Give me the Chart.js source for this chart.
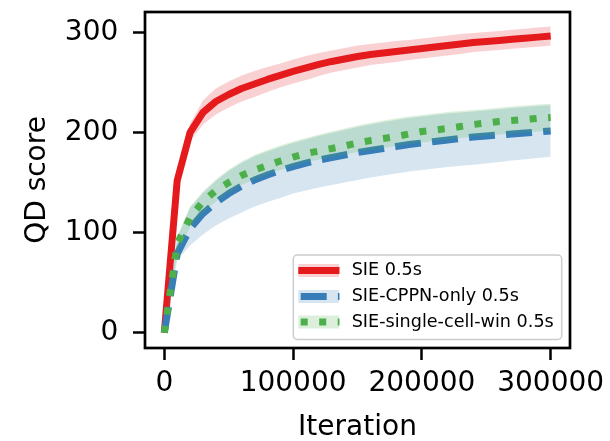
<!DOCTYPE html>
<html><head><meta charset="utf-8">
<script src="https://cdn.jsdelivr.net/npm/chart.js@4.4.0/dist/chart.umd.min.js"></script>
<style>html,body{margin:0;padding:0;background:#fff;}canvas{display:block;}</style>
</head><body>
<canvas id="c" width="610" height="441"></canvas>
<script>
const iterations = [0,10000,20000,30000,40000,50000,60000,70000,80000,90000,100000,110000,120000,130000,140000,150000,160000,170000,180000,190000,200000,210000,220000,230000,240000,250000,260000,270000,280000,290000,300000];

const sieMean = [0,152,200,220,231,238,244,248.5,253,257,261,264.5,268,271,273.5,276,278,279.5,281,282.5,284,285.5,287,288.5,290,291,292,293.2,294.2,295.3,296.4];
const sieLo   = [0,148,191,208,218,225,231,235.5,240.5,245,249,252.5,256.5,260,262.5,265,267.5,269,270.5,272.5,274,275.5,277,278.5,280.5,281.5,282.5,283.7,284.7,285.8,286.9];
const sieHi   = [0,156,209,232,244,251,257,261.5,265.5,269,273,276.5,279.5,282,284.5,287,288.5,290,291.5,292.5,294,295.5,297,298.5,299.5,300.5,301.5,302.7,303.7,304.8,305.9];

const cppnMean = [0,79,104,119,130,139,146.5,152.5,157.5,162,166,169.5,172.5,175,177.5,180,182,184,186,188,189.5,191,192.5,194,195.5,196.5,197.5,198.5,199.5,200.5,201.5];
const cppnLo   = [0,72,87,98,107,114,120,126,130.5,134.5,139,142,145,147.5,150,152.5,155,157,159,161,162.5,164,165.5,166.8,167.8,169,170.5,172,173.3,174.5,175.8];
const cppnHi   = [0,94.5,124.5,139.5,151.5,161.5,169.5,176,181,185.5,189.5,193,196.5,199.5,202.5,205.5,208,210.5,212.5,214.5,216,217.5,219,220,221,222,223.3,224.5,225.5,226.5,227.3];

const singleMean = [0,89,115,131,142,150,157,162.5,167,171.5,175.5,179,181.5,184,186.5,189.5,192,194,196,198.5,201,202.5,204,206,208,209.5,211,212,213,214.2,215];
const singleLo   = [0,80,105,120,131,140,147.5,153,158,162.5,166.5,170,173,175.5,178,180.5,182.5,184.5,186.5,188.5,190,191.5,193,194.5,196,197,198,199,200,201,202];
const singleHi   = [0,96,126,141,153,163,171,177.5,182.5,187,191,194.5,198,201,204,207,209.5,212,214,216,217.5,219,220.5,221.5,222.5,223.5,224.8,226,227,228,228.8];

const seriesLabels = ['SIE 0.5s', 'SIE-CPPN-only 0.5s', 'SIE-single-cell-win 0.5s'];
const xTicks = [0, 100000, 200000, 300000];
const yTicks = [0, 100, 200, 300];

const FONT = '"DejaVu Sans", sans-serif';
const lineColors = ['#e41a1c', '#377eb8', '#4daf4a'];
const bandColors = ['rgba(228,26,28,0.2)', 'rgba(55,126,184,0.2)', 'rgba(77,175,74,0.2)'];
const dashes = [[], [26, 11.2], [7, 11.5]];

const series = [
  {mean: sieMean, lo: sieLo, hi: sieHi},
  {mean: cppnMean, lo: cppnLo, hi: cppnHi},
  {mean: singleMean, lo: singleLo, hi: singleHi}
];
const pts = ys => iterations.map((x, i) => ({x: x, y: ys[i]}));

const datasets = [];
series.forEach((s, i) => {
  const ord = 20 - i * 3;
  datasets.push({label: seriesLabels[i] + ' lower', data: pts(s.lo), borderWidth: 0, borderColor: 'transparent',
    pointRadius: 0, fill: false, order: ord + 1});
  datasets.push({label: seriesLabels[i] + ' band', data: pts(s.hi), borderWidth: 0, borderColor: 'transparent',
    pointRadius: 0, fill: '-1', backgroundColor: bandColors[i], order: ord + 1});
  datasets.push({label: seriesLabels[i], data: pts(s.mean), borderColor: lineColors[i], borderWidth: 7,
    borderDash: dashes[i], borderJoinStyle: 'round', borderCapStyle: 'butt', pointRadius: 0, fill: false, order: ord});
});

const framePlugin = {
  id: 'frameLegend',
  afterDatasetsDraw(chart) {
    const {ctx, chartArea: a} = chart;
    ctx.save();
    ctx.strokeStyle = '#000';
    ctx.lineWidth = 2.7;
    ctx.strokeRect(a.left, a.top, a.right - a.left, a.bottom - a.top);
    ctx.restore();
  },
  afterDraw(chart) {
    const ctx = chart.ctx;
    ctx.save();
    const bx = 293.3, by = 255, bw = 268.4, bh = 84.5;
    ctx.beginPath();
    ctx.roundRect(bx, by, bw, bh, 4);
    ctx.fillStyle = 'rgba(255,255,255,0.8)';
    ctx.fill();
    ctx.lineWidth = 1.5;
    ctx.strokeStyle = '#cccccc';
    ctx.stroke();
    const rows = [270.5, 296.5, 322];
    rows.forEach((y, i) => {
      ctx.fillStyle = bandColors[i];
      ctx.fillRect(298.3, y - 6.5, 40.7, 13);
      ctx.beginPath();
      ctx.setLineDash(dashes[i]);
      ctx.lineDashOffset = dashes[i].length ? -2.4 : 0;
      ctx.lineWidth = 7;
      ctx.lineCap = 'butt';
      ctx.strokeStyle = lineColors[i];
      ctx.moveTo(298.3, y);
      ctx.lineTo(339.5, y);
      ctx.stroke();
      ctx.setLineDash([]);
      ctx.fillStyle = '#000';
      ctx.font = '17.6px ' + FONT;
      ctx.textBaseline = 'middle';
      ctx.textAlign = 'left';
      ctx.fillText(seriesLabels[i], 351.7, y);
    });
    ctx.restore();
  }
};

const tickFont = {family: FONT, size: 28, lineHeight: 1};
const gridOpts = {drawOnChartArea: false, drawTicks: true, tickLength: 12, tickWidth: 2.5, tickColor: '#000'};

new Chart(document.getElementById('c'), {
  type: 'line',
  data: {datasets: datasets},
  options: {
    responsive: false,
    devicePixelRatio: 1,
    animation: false,
    layout: {padding: {left: 0, right: 40, top: 12, bottom: 0}},
    plugins: {legend: {display: false}, tooltip: {enabled: false}},
    scales: {
      x: {
        type: 'linear', min: -15000, max: 315000,
        afterBuildTicks: s => { s.ticks = xTicks.map(v => ({value: v})); },
        afterFit: s => { s.height = 93; s.paddingLeft = 0; s.paddingRight = 0; },
        grid: gridOpts,
        border: {display: false},
        ticks: {font: tickFont, color: '#000', padding: 9.5, maxRotation: 0, autoSkip: false, callback: v => String(v)},
        title: {display: true, text: 'Iteration', font: tickFont, color: '#000', padding: {top: 0, bottom: -0.5}}
      },
      y: {
        type: 'linear', min: -15.3, max: 320.4,
        afterBuildTicks: s => { s.ticks = yTicks.map(v => ({value: v})); },
        afterFit: s => { s.width = 145; s.paddingTop = 0; s.paddingBottom = 0; },
        grid: gridOpts,
        border: {display: false},
        ticks: {font: tickFont, color: '#000', padding: 14.7, autoSkip: false, callback: v => String(v)},
        title: {display: true, text: 'QD score', font: tickFont, color: '#000', padding: {top: 23.5, bottom: 0}}
      }
    }
  },
  plugins: [framePlugin]
});
</script>
</body></html>
